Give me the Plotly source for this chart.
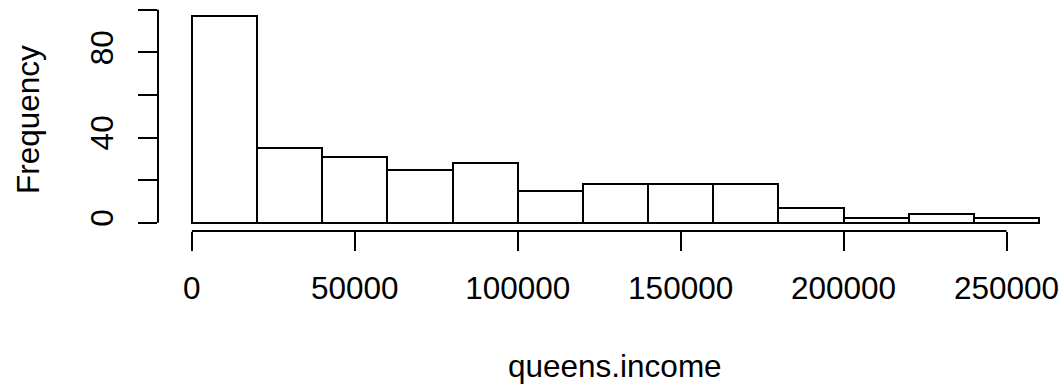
import plotly.graph_objects as go

# Histogram data
bin_starts = [0, 20000, 40000, 60000, 80000, 100000, 120000, 140000, 160000, 180000, 200000, 220000, 240000]
bin_width = 20000
counts = [97, 35, 31, 25, 28, 15, 18, 18, 18, 7, 2, 4, 2]
x_ticks = [0, 50000, 100000, 150000, 200000, 250000]
x_tick_labels = ["0", "50000", "100000", "150000", "200000", "250000"]
y_ticks = [0, 20, 40, 60, 80, 100]
y_tick_labels = ["0", "", "40", "", "80", ""]
x_title = "queens.income"
y_title = "Frequency"

centers = [s + bin_width / 2 for s in bin_starts]

# R-style usr ranges (4% extension)
xmin, xmax = bin_starts[0], bin_starts[-1] + bin_width
xpad = 0.04 * (xmax - xmin)
ymax = max(counts)
ypad = 0.04 * ymax
W, H = 1062, 384
left_px, top_px, bottom_px = 158.4, 7.9, 230.6
px_per_x = 325.7 / 100000.0
x_lo = xmin - xpad
x_hi = x_lo + (W - left_px) / px_per_x

FONT = "Liberation Sans, Arial, Helvetica, sans-serif"
fs = 31.5

fig = go.Figure()
fig.add_trace(go.Bar(
    x=centers, y=counts, width=[bin_width] * len(counts),
    marker=dict(color="white", line=dict(color="black", width=2)),
    hoverinfo="skip", showlegend=False,
))

fig.update_layout(
    width=W, height=H,
    margin=dict(l=left_px, r=0, t=top_px, b=H - bottom_px, pad=0),
    plot_bgcolor="white", paper_bgcolor="white",
    font=dict(family=FONT, size=fs, color="black"),
    bargap=0,
    xaxis=dict(
        range=[x_lo, x_hi], showgrid=False, zeroline=False, showline=False,
        tickmode="array", tickvals=x_ticks, ticktext=x_tick_labels,
        ticks="outside", ticklen=19, tickwidth=2, tickcolor="black",
        tickfont=dict(size=fs, family=FONT), ticklabelstandoff=10,
    ),
    yaxis=dict(
        range=[-ypad, ymax + ypad], showgrid=False, zeroline=False, showline=False,
        tickmode="array", tickvals=y_ticks, ticktext=y_tick_labels,
        ticks="outside", ticklen=19, tickwidth=2, tickcolor="black",
        tickangle=-90, tickfont=dict(size=fs, family=FONT), ticklabelstandoff=12,
    ),
    shapes=[
        dict(type="line", xref="paper", yref="y", x0=0, x1=0, y0=y_ticks[0], y1=y_ticks[-1],
             line=dict(color="black", width=2)),
        dict(type="line", xref="x", yref="paper", x0=x_ticks[0], x1=x_ticks[-1], y0=0, y1=0,
             line=dict(color="black", width=2)),
    ],
    annotations=[
        dict(text=x_title, xref="x", yref="paper", x=(x_lo + xmax + xpad) / 2, y=0,
             yshift=-(366 - bottom_px), showarrow=False, xanchor="center", yanchor="middle",
             font=dict(size=fs, family=FONT)),
        dict(text=y_title, xref="paper", yref="paper", x=0, y=0.5,
             xshift=-(left_px - 28), showarrow=False, xanchor="center", yanchor="middle",
             textangle=-90, font=dict(size=fs, family=FONT)),
    ],
)

fig.write_html("out.html", config={"displayModeBar": False},
               post_script="document.body.style.margin='0';document.body.style.overflow='hidden';")
